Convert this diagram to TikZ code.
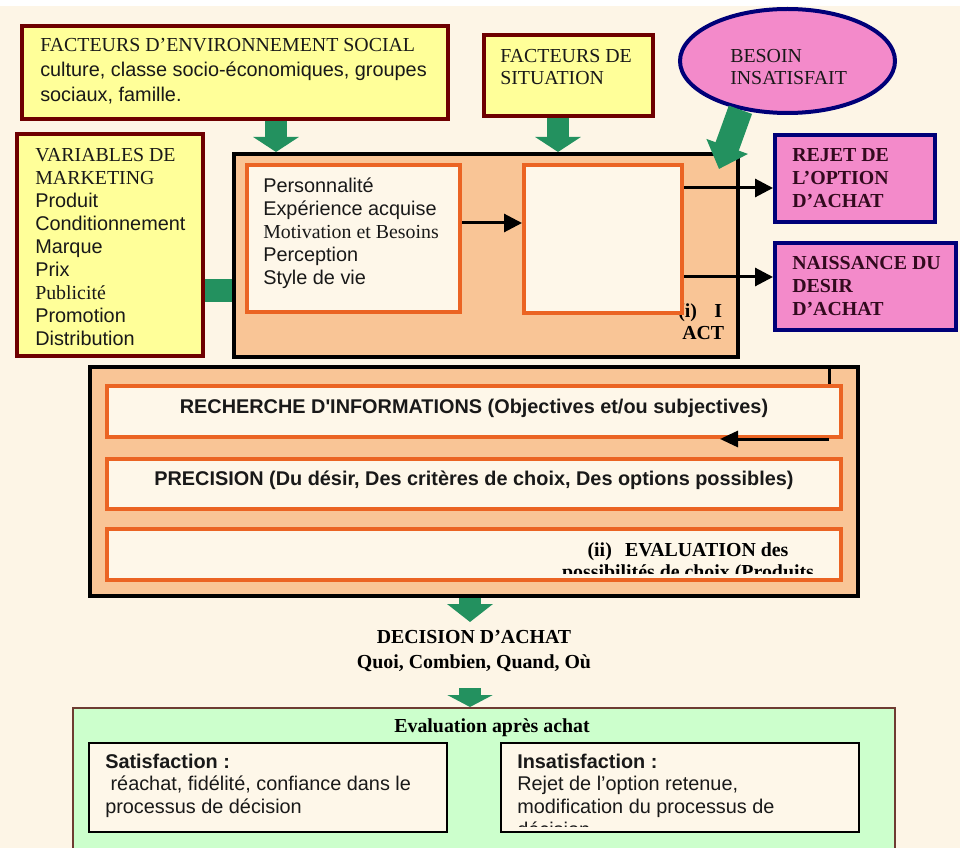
\documentclass[tikz,border=0pt]{standalone}
\usepackage{fontspec}
\setmainfont{Liberation Serif}
\newfontfamily\ari{Liberation Sans}
\newfontfamily\tnr{Liberation Serif}
\usetikzlibrary{arrows.meta,shapes.geometric,fit,calc}
\newcommand{\LL}[1]{\vtop{\halign{##\hfil\cr#1\crcr}}}
\newcommand{\CL}[1]{\vtop{\halign{\hfil##\hfil\cr#1\crcr}}}
\definecolor{bgc}{RGB}{253,245,230}
\definecolor{yel}{RGB}{255,255,153}
\definecolor{mar}{RGB}{110,0,0}
\definecolor{pk}{RGB}{243,138,202}
\definecolor{nav}{RGB}{0,0,120}
\definecolor{pan}{RGB}{249,197,150}
\definecolor{orb}{RGB}{235,100,35}
\definecolor{cre}{RGB}{254,247,233}
\definecolor{gc}{RGB}{35,145,95}
\definecolor{lgr}{RGB}{204,255,204}
\definecolor{brn}{RGB}{110,60,50}
\definecolor{txc}{RGB}{25,25,25}
\definecolor{dtx}{RGB}{50,10,30}
\tikzset{
  ybox/.style={draw=mar, fill=yel, line width=3pt, inner sep=0pt},
  pkbox/.style={draw=nav, fill=pk, line width=3pt, inner sep=0pt},
  pbox/.style={draw=black, fill=pan, line width=3pt, inner sep=0pt},
  obox/.style={draw=orb, fill=cre, line width=3pt, inner sep=0pt},
  evbox/.style={draw=brn, fill=lgr, line width=1.5pt, inner sep=0pt},
  sbox/.style={draw=black, fill=cre, line width=2pt, inner sep=0pt},
  atxt/.style={font={\ari\fontsize{14.9pt}{17.2pt}\selectfont}, inner sep=0pt, text=txc},
  ttxt/.style={font={\tnr\fontsize{14.9pt}{17.2pt}\selectfont}, inner sep=0pt, text=txc},
  tbtxt/.style={font={\tnr\bfseries\fontsize{14.9pt}{17.2pt}\selectfont}, inner sep=0pt, text=dtx},
  abtxt/.style={font={\ari\bfseries\fontsize{14.9pt}{17.2pt}\selectfont}, inner sep=0pt, text=txc},
  blk/.style={draw=black, line width=2.25pt, -{Triangle[width=13.5pt,length=13.5pt]}},
  garrow/.style={draw=gc, line width=17pt, -{Triangle[width=33.75pt,length=11.25pt]}},
}
\begin{document}
\begin{tikzpicture}[x=0.75pt,y=-0.75pt]
\useasboundingbox (0,0) rectangle (960,848);
\clip (0,0) rectangle (960,848);
\fill[bgc] (0,6) rectangle (960,848);

% top factor boxes
\node[ybox, fit={(22,26)(448,119)}] (env) {};
\node[atxt, anchor=base west, font={\ari\fontsize{14.9pt}{18.4pt}\selectfont}] (envt) at (40,52)
  {\LL{{\tnr FACTEURS D’ENVIRONNEMENT SOCIAL}\cr culture, classe socio-économiques, groupes\cr sociaux, famille.}};
\node[ybox, fit={(484,35)(653,116)}] (sit) {};
\node[ttxt, anchor=base west, font={\tnr\fontsize{14.9pt}{16.5pt}\selectfont}] (sitt) at (500,63) {\LL{FACTEURS DE\cr SITUATION}};
\node[ellipse, draw=nav, fill=pk, line width=3pt, inner sep=0pt, minimum width=161.25pt, minimum height=78pt] (ell) at (787.5,61) {};
\node[ttxt, anchor=base west, font={\tnr\fontsize{14.9pt}{16.5pt}\selectfont}] (ellt) at (730,63) {\LL{BESOIN\cr INSATISFAIT}};

% marketing variables
\node[ybox, fit={(17,134)(203,356)}] (var) {};
\node[atxt, anchor=base west] (vart) at (35,162)
  {\LL{{\tnr VARIABLES DE}\cr {\tnr MARKETING}\cr Produit\cr Conditionnement\cr Marque\cr Prix\cr {\tnr Publicité}\cr Promotion\cr Distribution}};

% panel 1
\node[pbox, fit={(234,154)(738,357)}] (p1) {};
\node[obox, fit={(247,165)(460,312)}] (ib1) {};
\node[atxt, anchor=base west] (ib1t) at (263,193)
  {\LL{Personnalité\cr Expérience acquise\cr {\tnr Motivation et Besoins}\cr Perception\cr Style de vie}};
\node[tbtxt, anchor=base west, text=black, font={\tnr\bfseries\fontsize{14.9pt}{16.5pt}\selectfont}] (act) at (678,318) {\LL{(i)\hspace{13pt}I\cr \hspace*{3pt}ACT}};
\node[obox, fit={(524,165)(682,313)}] (ib2) {};

% outcome boxes
\node[pkbox, fit={(775,135)(935,222)}] (rej) {};
\node[tbtxt, anchor=base west] (rejt) at (792,162) {\LL{REJET DE\cr L’OPTION\cr D’ACHAT}};
\node[pkbox, fit={(775,243)(956,330)}] (nai) {};
\node[tbtxt, anchor=base west] (nait) at (792,270) {\LL{NAISSANCE DU\cr DESIR\cr D’ACHAT}};

% black arrows panel 1
\draw[blk] (ib1.east |- 0,223) -- (ib2.west |- 0,223);
\draw[blk] (ib2.east |- 0,188) -- (rej.west |- 0,188);
\draw[blk] (ib2.east |- 0,277) -- (nai.west |- 0,277);

% panel 2
\node[pbox, fit={(90,367)(858,596)}] (p2) {};
\node[obox, fit={(107,386)(841,437)}] (rech) {};
\node[abtxt, anchor=base] (recht) at (474,413) {RECHERCHE D\textquotesingle INFORMATIONS (Objectives et/ou subjectives)};
\node[obox, fit={(107,459)(841,509)}] (prec) {};
\node[abtxt, anchor=base] (prect) at (474,485) {PRECISION (Du désir, Des critères de choix, Des options possibles)};
\node[obox, fit={(107,529)(841,580)}] (eval) {};
\begin{scope}
  \clip (109,531) rectangle (839,573.5);
  \node[tbtxt, text=black, anchor=base] (evt) at (688,556) {\CL{(ii)\hspace{10pt}EVALUATION des\cr possibilités de choix (Produits}};
\end{scope}
\coordinate (fb) at (720,439);
\draw[blk, -{Triangle[width=12pt,length=13.5pt]}] (p2.north -| 829,0) -- (rech.north -| 829,0) (rech.south -| 829,0) -- (fb);

% green block arrows
\draw[garrow] (env.south -| 276,0) -- (p1.north -| 276,0);
\draw[garrow] (sit.south -| 558,0) -- (p1.north -| 558,0);
\coordinate (tipB) at (719,169);
\draw[draw=gc, line width=18.5pt, -{Triangle[width=32pt,length=18pt]}] (ell.-134) -- (tipB);
\draw[draw=gc, line width=17pt] (var.east |- 0,290.5) -- (p1.west |- 0,290.5);
\coordinate (decTop) at (470,622);
\draw[garrow, -{Triangle[width=33.75pt,length=13.5pt]}] (p2.south -| 470,0) -- (decTop);

% decision
\node[tbtxt, text=black, anchor=base, font={\tnr\bfseries\fontsize{14.9pt}{18.75pt}\selectfont}] (dec) at (474,643) {\CL{DECISION D’ACHAT\cr Quoi, Combien, Quand, Où}};

% evaluation after purchase
\node[evbox, fit={(73,708)(895,880)}] (evp) {};
\coordinate (decBot) at (470,688);
\draw[garrow, -{Triangle[width=33.75pt,length=9pt]}] (decBot) -- (evp.north -| 470,0);
\node[tbtxt, text=black, anchor=base] (evtit) at (492,732) {Evaluation après achat};
\node[sbox, fit={(89,743)(447,832)}] (sat) {};
\node[atxt, anchor=base west] (satt) at (105,768) {\LL{\textbf{Satisfaction :}\cr \hspace*{4pt}réachat, fidélité, confiance dans le\cr processus de décision}};
\node[sbox, fit={(501,743)(859,832)}] (ins) {};
\begin{scope}
  \clip (503,745) rectangle (857,826);
  \node[atxt, anchor=base west] (inst) at (517,768) {\LL{\textbf{Insatisfaction :}\cr Rejet de l’option retenue,\cr modification du processus de\cr décision}};
\end{scope}
\end{tikzpicture}
\end{document}
